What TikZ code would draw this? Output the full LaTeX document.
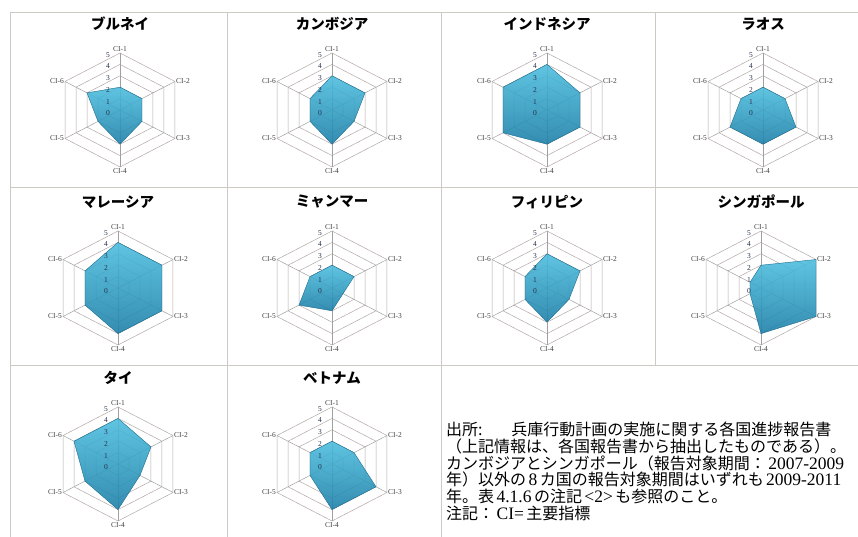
\documentclass[tikz,border=0pt]{standalone}
\usepackage{fontspec}
\setmainfont{Liberation Serif}
\newfontfamily\jpfont{Noto Sans CJK JP}
\usetikzlibrary{positioning}

\definecolor{gridline}{RGB}{205,202,195}
\definecolor{ringline}{RGB}{178,166,166}
\definecolor{spokeline}{RGB}{160,160,160}
\definecolor{radartop}{RGB}{78,190,222}
\definecolor{radarbottom}{RGB}{30,128,168}
\definecolor{radaredge}{RGB}{28,108,142}
\definecolor{scaletext}{RGB}{40,48,80}

% Latin runs inside the Japanese note
\newcommand{\latn}[1]{\hspace{0.15em}{\rmfamily\fontsize{17.5}{16.7}\selectfont #1}\hspace{0.15em}}

\begin{document}
\begin{tikzpicture}[
        x=1pt, y=-1pt,
        cell_line/.style={draw=gridline, line width=0.8pt},
        ring_line/.style={draw=ringline, line width=0.5pt},
        spoke_line/.style={draw=spokeline, line width=0.5pt},
        radar_area/.style={top color=radartop, bottom color=radarbottom, draw=radaredge, line width=0.4pt, fill opacity=0.9},
        axis_label/.style={font=\fontsize{7.5}{8}\selectfont, text=black!75, inner sep=1pt},
        scale_label/.style={font=\fontsize{7.5}{8}\selectfont, text=scaletext, inner sep=0pt},
        chart_title/.style={font=\jpfont\bfseries\fontsize{14.5}{16}\selectfont, inner sep=0pt},
        note_text/.style={font=\jpfont\fontsize{16}{16.7}\selectfont, align=left, inner sep=0pt}
    ]

    \useasboundingbox (0,0) rectangle (858,537);

    % Cell borders
    \draw[cell_line] (10,12) -- (858,12);
    \draw[cell_line] (10,187) -- (858,187);
    \draw[cell_line] (10,365) -- (858,365);
    \draw[cell_line] (10,12) -- (10,537);
    \draw[cell_line] (227,12) -- (227,537);
    \draw[cell_line] (441,12) -- (441,537);
    \draw[cell_line] (655,12) -- (655,365);

    % Radar charts: centre x/y, country, CI-1 ... CI-6
    \foreach \cx/\cy/\cname/\va/\vb/\vc/\vd/\ve/\vf [count=\n] in {
        120/110/ブルネイ/2/2/2/3/2/3,
        332/110/カンボジア/3/3/2/3/2/2,
        547/110/インドネシア/4/3/3/3/4/4,
        763/110/ラオス/2/2/3/3/3/2,
        118/288/マレーシア/4/4/4/4/3/3,
        332/288/ミャンマー/2/2/1/2/3/2,
        547/288/フィリピン/3/3/2/3/2/2,
        761/288/シンガポール/2/5/5/4/1/1,
        118/464/タイ/4/3/2/4/3/4,
        332/464/ベトナム/2/2/4/4/2/2}
    {
        \begin{scope}[shift={(\cx,\cy)}, x=12.7pt, y=11.4pt]
            % rings and spokes
            \foreach \r in {1,...,5}
                \draw[ring_line] (90:\r) -- (30:\r) -- (-30:\r) -- (-90:\r) -- (-150:\r) -- (150:\r) -- cycle;
            \foreach \a in {90,30,-30,-90,-150,150}
                \draw[spoke_line] (0,0) -- (\a:5);
            % data area
            \path[radar_area] (90:\va) -- (30:\vb) -- (-30:\vc) -- (-90:\vd) -- (-150:\ve) -- (150:\vf) -- cycle;
            % scale numbers
            \foreach \v in {0,...,5}
                \node[scale_label] (s\n-\v) at (-0.95,{1.026*\v-0.29}) {\v};
            % axis names
            \node[axis_label, above] (c\n-1) at (90:5) {CI-1};
            \node[axis_label, right] (c\n-2) at (30:5) {CI-2};
            \node[axis_label, right] (c\n-3) at (-30:5) {CI-3};
            \node[axis_label, below] (c\n-4) at (-90:5) {CI-4};
            \node[axis_label, left] (c\n-5) at (-150:5) {CI-5};
            \node[axis_label, left] (c\n-6) at (150:5) {CI-6};
            \node[chart_title] (t\n) at (0,7.55) {\cname};
        \end{scope}
    }

    % Source note
    \node[note_text, anchor=north west] (note) at (446,422) {%
        出所:\hspace{1.8em}兵庫行動計画の実施に関する各国進捗報告書\\
        （上記情報は、各国報告書から抽出したものである）。\\
        カンボジアとシンガポール（報告対象期間：\latn{2007-2009}\\
        年）以外の\latn{8}カ国の報告対象期間はいずれも\latn{2009-2011}\\
        年。表\latn{4.1.6}の注記\latn{<2>}も参照のこと。\\
        注記：\latn{CI=}主要指標};

\end{tikzpicture}
\end{document}
